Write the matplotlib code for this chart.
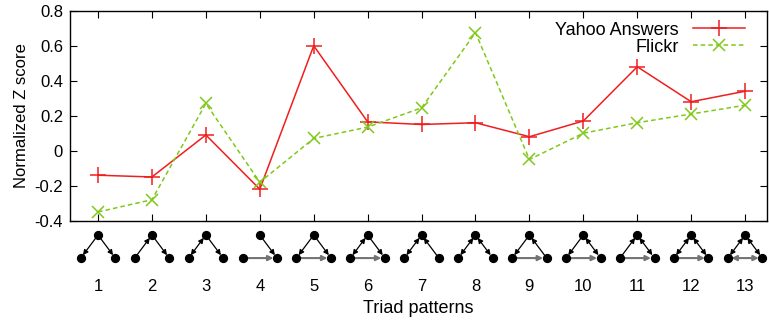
import matplotlib
matplotlib.use("Agg")
import matplotlib.pyplot as plt

plt.rcParams['font.family'] = ['Liberation Sans', 'DejaVu Sans']

patterns = list(range(1, 14))
yahoo = [-0.14, -0.15, 0.09, -0.22, 0.60, 0.165, 0.15, 0.16, 0.08, 0.17, 0.48, 0.28, 0.34]
flickr = [-0.35, -0.28, 0.27, -0.18, 0.07, 0.135, 0.245, 0.675, -0.05, 0.10, 0.16, 0.21, 0.26]
yticks = [-0.4, -0.2, 0, 0.2, 0.4, 0.6, 0.8]
ytick_labels = ['-0.4', '-0.2', '0', '0.2', '0.4', '0.6', '0.8']

# directed arcs of each triad (T=top, L=bottom-left, R=bottom-right)
triads = [
    ['TL', 'TR'],
    ['LT', 'TR'],
    ['LT', 'TL', 'TR'],
    ['TR', 'LR'],
    ['TL', 'TR', 'LR'],
    ['LT', 'TL', 'TR', 'LR'],
    ['LT', 'TL', 'RT'],
    ['LT', 'TL', 'RT', 'TR'],
    ['TL', 'RT', 'LR'],
    ['TL', 'TR', 'RT', 'LR'],
    ['LT', 'TR', 'RT', 'LR'],
    ['LT', 'TL', 'TR', 'RT', 'LR'],
    ['LT', 'TL', 'TR', 'RT', 'LR', 'RL'],
]

red = '#f01e1e'
green = '#80c81a'

fig = plt.figure(figsize=(7.69, 3.26), dpi=100)
ax = fig.add_axes([0.091, 0.323, 0.906, 0.644])

ax.plot(patterns, yahoo, color=red, lw=1.1, marker='+', ms=11, mew=1.1,
        label='Yahoo Answers')
ax.plot(patterns, flickr, color=green, lw=1.1, ls=(0, (3, 2)), marker='x', ms=9, mew=1.1,
        label='Flickr')

ax.set_xlim(0.48, 13.4)
ax.set_ylim(-0.4, 0.8)
ax.set_yticks(yticks)
ax.set_yticklabels(ytick_labels)
ax.set_xticks(patterns)
ax.set_xticklabels([str(p) for p in patterns])
ax.tick_params(direction='in', top=True, right=True, length=5, width=0.8,
               labelsize=12)
ax.tick_params(axis='x', pad=42)
ax.tick_params(axis='y', pad=5)
for s in ax.spines.values():
    s.set_linewidth(1.0)

ax.set_xlabel('Triad patterns', fontsize=13, labelpad=4)
ax.set_ylabel('Normalized Z score', fontsize=12, labelpad=4)

leg = ax.legend(loc='upper right', frameon=False, markerfirst=False, fontsize=13,
                handlelength=2.9, handletextpad=0.8, borderaxespad=0.2,
                labelspacing=0.0, bbox_to_anchor=(0.985, 1.0))
for t in leg.get_texts():
    t.set_ha('right')

# triad icons below the axis
tr = ax.get_xaxis_transform()
dx = 0.32
ytop, ybot = -0.068, -0.178
for x, arcs in zip(patterns, triads):
    pos = {'T': (x, ytop), 'L': (x - dx, ybot), 'R': (x + dx, ybot)}
    for a, b in [('T', 'L'), ('T', 'R'), ('L', 'R')]:
        fwd = (a + b) in arcs
        bwd = (b + a) in arcs
        if not (fwd or bwd):
            continue
        col = '0.45' if (a, b) == ('L', 'R') else 'black'
        lw = 1.5 if (a, b) == ('L', 'R') else 0.9
        if fwd and bwd:
            style = '<|-|>'
        elif fwd:
            style = '-|>'
        else:
            style = '<|-'
        ax.annotate('', xy=pos[b], xytext=pos[a], xycoords=tr, textcoords=tr,
                    annotation_clip=False,
                    arrowprops=dict(arrowstyle=style + ',head_length=0.3,head_width=0.15',
                                    color='black' if col == 'black' else col,
                                    lw=lw, shrinkA=2.6, shrinkB=2.6))
    xs = [pos[k][0] for k in 'TLR']
    ys = [pos[k][1] for k in 'TLR']
    ax.scatter(xs, ys, s=32, color='black', transform=tr, clip_on=False, zorder=5)

fig.savefig('out.png', dpi=100)
